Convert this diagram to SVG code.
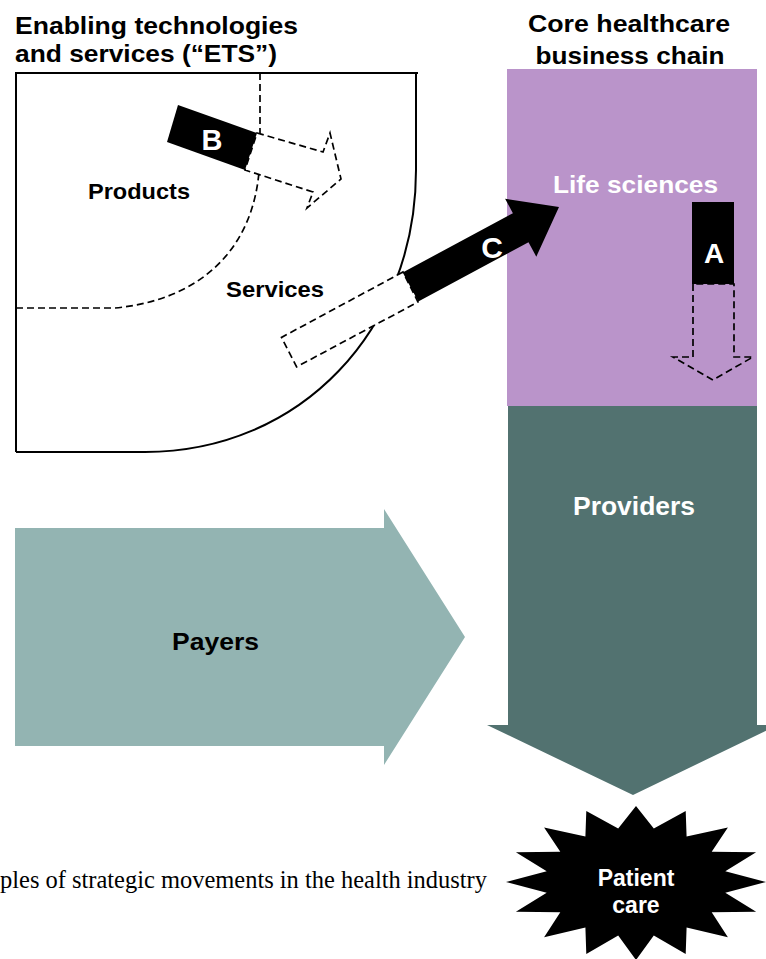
<svg xmlns="http://www.w3.org/2000/svg" width="766" height="959" viewBox="0 0 766 959">
<style>
.t{font-family:"Liberation Sans",Arial,sans-serif;font-weight:bold;}
.blk{fill:#000;}
.wht{fill:#fff;}
.solid{fill:none;stroke:#000;stroke-width:2;}
.dash{stroke:#000;stroke-width:1.7;stroke-dasharray:7 4;}
.cap{font-family:"Liberation Serif","Times New Roman",serif;font-size:25px;fill:#000;}
</style>
<rect width="766" height="959" fill="#fff"/>

<g id="headers">
<text class="t blk" x="15" y="34" font-size="24" textLength="283" lengthAdjust="spacingAndGlyphs">Enabling technologies</text>
<text class="t blk" x="15" y="62" font-size="24" textLength="262" lengthAdjust="spacingAndGlyphs">and services (“ETS”)</text>
<text class="t blk" x="629" y="32" font-size="24" text-anchor="middle" textLength="202" lengthAdjust="spacingAndGlyphs">Core healthcare</text>
<text class="t blk" x="630" y="64" font-size="24" text-anchor="middle" textLength="189" lengthAdjust="spacingAndGlyphs">business chain</text>
</g>

<g id="ets">
<path class="solid" d="M16,452 L16,73 L418,73 M416,73 L416,170 C416,330 300,452 145,452 L16,452"/>
<path class="dash" fill="none" d="M260,73 L260,134"/>
<path class="dash" fill="none" d="M16,308 L115,308 C200,300 252,250 259,172"/>
<text class="t blk" x="88" y="199" font-size="22" textLength="102" lengthAdjust="spacingAndGlyphs">Products</text>
<text class="t blk" x="226" y="297" font-size="22" textLength="98" lengthAdjust="spacingAndGlyphs">Services</text>
</g>

<g id="life-sciences">
<rect x="507" y="69" width="250" height="337" fill="#BA94CA"/>
<text class="t wht" x="553" y="193" font-size="24" textLength="165" lengthAdjust="spacingAndGlyphs">Life sciences</text>
</g>

<g id="providers">
<polygon points="508,406 757,406 757,725 778,725 633,795 487,725 508,725" fill="#527270"/>
<text class="t wht" x="634" y="515" font-size="25" text-anchor="middle" textLength="122" lengthAdjust="spacingAndGlyphs">Providers</text>
</g>

<g id="payers">
<polygon points="15,528 384,528 384,509 465,637 384,765 384,746 15,746" fill="#93B4B2"/>
<text class="t blk" x="172" y="650" font-size="24" textLength="87" lengthAdjust="spacingAndGlyphs">Payers</text>
</g>

<g id="patient-care">
<polygon fill="#000" points="636,806 618.2,828.4 586.3,811 585.4,836.6 544.1,827.5 560.3,851.7 515.9,852.2 546.7,871.3 506,882 546.7,892.7 515.9,911.8 560.3,912.3 544.1,937.2 585.4,927.4 586.3,954.1 618.2,935.6 636,960 653.8,935.6 685.7,954.1 686.6,927.4 727.9,937.2 711.7,912.3 756.1,911.8 725.3,892.7 766,882 725.3,871.3 756.1,852.2 711.7,851.7 727.9,827.5 686.6,836.6 685.7,811 653.8,828.4"/>
<text class="t wht" x="636" y="886" font-size="23" text-anchor="middle">Patient</text>
<text class="t wht" x="636" y="913" font-size="23" text-anchor="middle">care</text>
</g>

<g id="caption">
<text class="cap" x="0" y="888" textLength="487" lengthAdjust="spacingAndGlyphs">ples of strategic movements in the health industry</text>
</g>

<g id="connectors">
<g id="move-b">
<polygon class="dash" fill="#fff" points="257,133 323,152 330,133 341,179 307,208 313,192 245,170"/>
<polygon class="blk" points="178,105 257,133 245,170 167,142"/>
<text class="t wht" x="212" y="150" font-size="29" text-anchor="middle">B</text>
</g>
<g id="move-c">
<polygon class="dash" fill="#fff" points="403,272 281.5,337.4 296.6,366.9 418,302"/>
<polygon class="blk" points="402.7,272.5 512.9,213.2 505.1,198.7 559,207 536.3,256.7 528.5,242.2 418.3,301.5"/>
<text class="t wht" x="492" y="258" font-size="30" text-anchor="middle">C</text>
</g>
<g id="move-a">
<polygon class="dash" fill="#BA94CA" points="693,284 693,357 673,357 713,380 753,357 734,357 734,284"/>
<rect class="blk" x="692" y="202" width="42" height="82"/>
<text class="t wht" x="714" y="263" font-size="28" text-anchor="middle">A</text>
</g>
</g>
</svg>
